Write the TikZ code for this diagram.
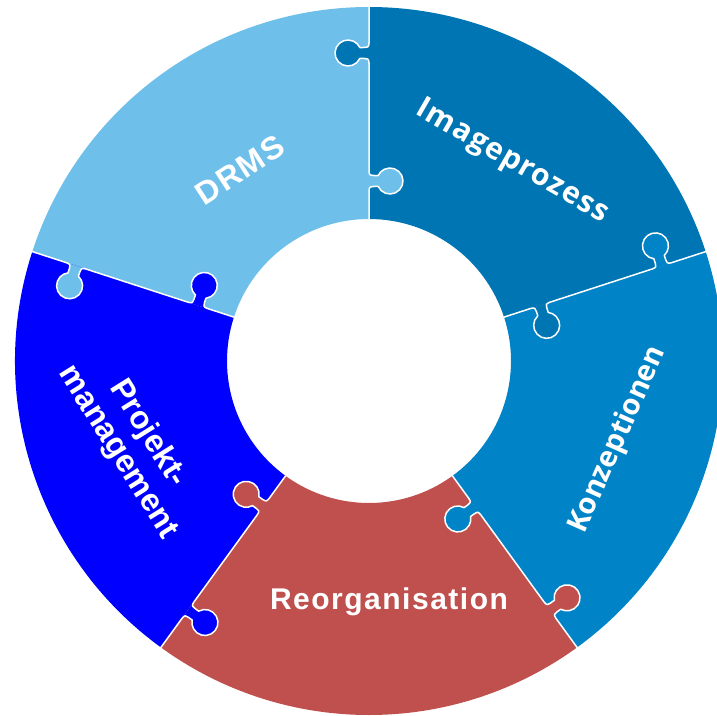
\documentclass[tikz,border=0pt]{standalone}
\usepackage{fontspec}
\setmainfont{Liberation Sans}
\newfontfamily\humfont{Open Sans}
\newfontfamily\humspaced{Open Sans}[LetterSpace=4]
\newfontfamily\arialspaced{Liberation Sans}[LetterSpace=5]

\definecolor{drmsc}{RGB}{110,192,235}
\definecolor{imgc}{RGB}{0,117,180}
\definecolor{konzc}{RGB}{0,131,199}
\definecolor{projc}{RGB}{0,0,255}
\definecolor{reorgc}{RGB}{192,80,77}

\tikzset{
  seamline/.style={draw=white, line width=1.5, line join=round, line cap=round},
  lbl/.style={text=white, font=\arialspaced\bfseries\fontsize{30}{34}\selectfont, inner sep=0},
  lbltight/.style={text=white, font=\bfseries\fontsize{32}{35}\selectfont, inner sep=0},
  lblhum/.style={text=white, font=\humfont\bfseries\fontsize{29}{32}\selectfont, inner sep=0},
}

\begin{document}
\begin{tikzpicture}[x=1pt, y=1pt]
  \useasboundingbox (-369,-354) rectangle (348,361);
  \clip (-369,-354) rectangle (348,361);

  \def\rin{142}
  \def\rout{354}

  % ring sectors
  \foreach \a/\b/\c in {90/162/drmsc, 162/234/projc, 234/306/reorgc, 306/378/konzc, 18/90/imgc}{
    \fill[\c] (\a:\rin) -- (\a:\rout) arc[start angle=\a, end angle=\b, radius=\rout]
      -- (\b:\rin) arc[start angle=\b, end angle=\a, radius=\rin] -- cycle;
  }

  % puzzle seams: outer tab of the clockwise piece, inner tab of the counter-clockwise piece
  \foreach \a/\co/\ci in {90/imgc/drmsc, 162/drmsc/projc, 234/projc/reorgc, 306/reorgc/konzc, 18/konzc/imgc}{
    \begin{scope}[rotate=\a]
      \fill[\co] (298,0) .. controls (302.5,0) and (302.5,2) .. (302.5,4.5) -- (302.5,9.2)
        arc[start angle=245, end angle=-65, radius=13]
        -- (313.5,4.5) .. controls (313.5,2) and (313.5,0) .. (318,0) -- cycle;
      \fill[\ci] (170,0) .. controls (174.5,0) and (174.5,-2) .. (174.5,-4.5) -- (174.5,-9.2)
        arc[start angle=-245, end angle=65, radius=13]
        -- (185.5,-4.5) .. controls (185.5,-2) and (185.5,0) .. (190,0) -- cycle;
      \draw[seamline] (\rin,0) -- (170,0)
        .. controls (174.5,0) and (174.5,-2) .. (174.5,-4.5) -- (174.5,-9.2)
        arc[start angle=-245, end angle=65, radius=13]
        -- (185.5,-4.5) .. controls (185.5,-2) and (185.5,0) .. (190,0)
        -- (298,0) .. controls (302.5,0) and (302.5,2) .. (302.5,4.5) -- (302.5,9.2)
        arc[start angle=245, end angle=-65, radius=13]
        -- (313.5,4.5) .. controls (313.5,2) and (313.5,0) .. (318,0) -- (\rout+2,0);
    \end{scope}
  }

  % labels
  \node[lbl, font=\arialspaced\bfseries\fontsize{32}{34}\selectfont, rotate=33] (drms) at (-129,191) {DRMS};
  \node[lblhum, font=\humspaced\bfseries\fontsize{30}{32}\selectfont, rotate=-30] (img) at (143,199) {Imageprozess};
  \node[lblhum, rotate=66] (konz) at (249,-79) {Konzeptionen};
  \node[lbl] (reorg) at (20,-241) {Reorganisation};
  \node[lbltight, rotate=-58, align=center] (proj) at (-236,-82) {Projekt-\\management};
\end{tikzpicture}
\end{document}
